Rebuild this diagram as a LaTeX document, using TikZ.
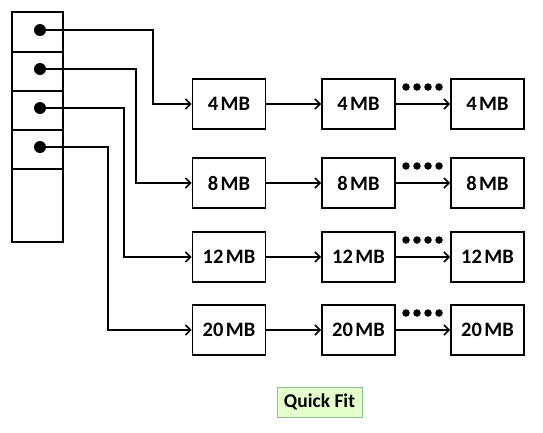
\documentclass[tikz,border=0pt]{standalone}
\usepackage{fontspec}
\setmainfont{Carlito}
\usetikzlibrary{arrows.meta}
\tikzset{
  mb/.style={draw, line width=1.8pt, minimum width=73pt, minimum height=50pt, inner sep=0pt, font=\fontsize{20.5}{20}\selectfont\bfseries},
  cell/.style={draw, line width=1.8pt, minimum width=51pt, inner sep=0pt},
  ptr/.style={circle, fill=black, minimum size=12pt, inner sep=0pt},
  conn/.style={line width=1.8pt, -{Straight Barb[length=5pt,width=10pt,line width=1.6pt]}},
  seq/.style={circle, fill=black, minimum size=7.5pt, inner sep=0pt},
}
\begin{document}
\begin{tikzpicture}[x=1pt,y=-1pt]
\useasboundingbox (0,0) rectangle (543,432);
% left column
\node[cell, minimum height=40pt] (c1) at (37.5,32) {};
\node[cell, minimum height=39pt] (c2) at (37.5,71.5) {};
\node[cell, minimum height=39pt] (c3) at (37.5,110.5) {};
\node[cell, minimum height=39pt] (c4) at (37.5,149.5) {};
\node[cell, minimum height=73pt] (c5) at (37.5,205.5) {};
\node[ptr] (d1) at (40,30) {};
\node[ptr] (d2) at (40,69) {};
\node[ptr] (d3) at (40,108) {};
\node[ptr] (d4) at (40,147) {};
% boxes
\foreach \r/\y/\n in {1/104/4, 2/183/8, 3/257/12, 4/330/20}{
  \node[mb] (b\r1) at (229,\y) {\n\hspace{0.12em}MB};
  \node[mb] (b\r2) at (358.5,\y) {\n\hspace{0.12em}MB};
  \node[mb] (b\r3) at (487.5,\y) {\n\hspace{0.12em}MB};
  \draw[conn] (b\r1.east) -- (b\r2.west);
  \draw[conn] (b\r2.east) -- (b\r3.west);
  \foreach \i/\x in {1/406,2/417,3/428,4/439}{
    \node[seq] (s\r\i) at (\x,\y-17) {};
  }
}
\coordinate (v1) at (153,104);
\coordinate (v2) at (136,183);
\coordinate (v3) at (124,257);
\coordinate (v4) at (108,330);
\foreach \r in {1,2,3,4}{
  \draw[conn] (d\r.center) -| (v\r) -- (b\r1.west);
}
\node[draw=green!30!gray!70, fill=green!50!yellow!20, line width=0.7pt, minimum width=85pt, minimum height=30pt, inner sep=0pt, font=\fontsize{19.5}{19}\selectfont\bfseries] (qf) at (319.5,402) {Quick Fit};
\end{tikzpicture}
\end{document}
